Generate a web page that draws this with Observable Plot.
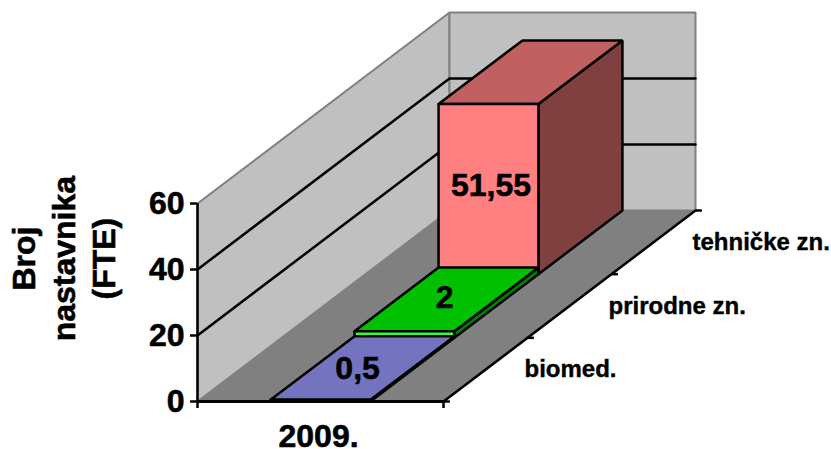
<!DOCTYPE html>
<html>
<head>
<meta charset="utf-8">
<script src="https://cdn.jsdelivr.net/npm/d3@7"></script>
<script src="https://cdn.jsdelivr.net/npm/@observablehq/plot@0.6"></script>
<style>html,body{margin:0;padding:0;background:#fff}svg{display:block}</style>
</head>
<body>
<script>
// Chart values
const categories = ["biomed.", "prirodne zn.", "tehničke zn."];
const values = [0.5, 2, 51.55];
const valueLabels = ["0,5", "2", "51,55"];
const year = "2009.";
const yTicks = [0, 20, 40, 60];
const gridValues = [20, 40];
const yTitle = "Broj\nnastavnika\n(FTE)";
const palette = [
  {front: "#9999ff", top: "#7373bf", side: "#4d4d80"},
  {front: "#33ff33", top: "#00c000", side: "#008000"},
  {front: "#ff8080", top: "#c06060", side: "#804040"}
];

// Oblique projection: depth (0..1) shifts a point within the x / value scales.
const depthX = 252 / 246, depthV = 191 / 3.3;
const barLo = 0.297, barHi = 0.703;
const n = categories.length;
const P = (x, d, v) => ({x: x + d * depthX, y: v + d * depthV});
const face = (pts, fill, stroke, strokeWidth) =>
  Plot.line([...pts, pts[0]], {x: "x", y: "y", fill, stroke, strokeWidth, strokeLinejoin: "miter", curve: "linear"});
const heavy = {fontWeight: "bold", fill: "#000", stroke: "#000", strokeWidth: 0.6};

const marks = [];
// Walls and floor
marks.push(face([P(0,0,0), P(0,1,0), P(0,1,60), P(0,0,60)], "#c0c0c0", "#808080", 2));
marks.push(face([P(0,1,0), P(1,1,0), P(1,1,60), P(0,1,60)], "#c0c0c0", "#808080", 2));
// Gridlines
for (const g of gridValues) {
  marks.push(Plot.line([P(0,0,g), P(0,1,g), P(1,1,g)], {x: "x", y: "y", stroke: "#000", strokeWidth: 2.5}));
}
marks.push(face([P(0,0,0), P(1,0,0), P(1,1,0), P(0,1,0)], "#808080", "#808080", 1));
// Bars, back to front
for (let i = n - 1; i >= 0; i--) {
  const d0 = i / n, d1 = (i + 1) / n, v = values[i], c = palette[i];
  const w = 2.5;
  marks.push(face([P(barHi,d0,0), P(barHi,d1,0), P(barHi,d1,v), P(barHi,d0,v)], c.side, "#000", w));
  marks.push(face([P(barLo,d0,v), P(barHi,d0,v), P(barHi,d1,v), P(barLo,d1,v)], c.top, "#000", w));
  marks.push(face([P(barLo,d0,0), P(barHi,d0,0), P(barHi,d0,v), P(barLo,d0,v)], c.front, "#000", w));
}
// Axes
marks.push(Plot.ruleX([0], {y1: 0, y2: 60, stroke: "#000", strokeWidth: 2.5}));
marks.push(Plot.ruleY([0], {x1: 0, x2: 1, stroke: "#000", strokeWidth: 3}));
marks.push(Plot.axisY({ticks: yTicks, tickSize: 7, tickPadding: 6, label: null, tickFormat: d => d,
  fontSize: 32, fontWeight: "bold", strokeWidth: 2.5, stroke: "#000", fill: "#000",
  textStroke: "#000", textStrokeWidth: 0.6}));
marks.push(Plot.axisX({ticks: [0, 1], tickSize: 7, label: null, tickFormat: () => "", strokeWidth: 2.5, stroke: "#000"}));
marks.push(Plot.line([P(1,0,0), P(1,1,0)], {x: "x", y: "y", stroke: "#000", strokeWidth: 2.5}));
// Depth ticks
const depthTicks = d3.range(0, n + 1).map(i => i / n);
marks.push(Plot.link(depthTicks, {
  x1: d => P(1,d,0).x, y1: d => P(1,d,0).y,
  x2: d => P(1,d,0).x + 0.026, y2: d => P(1,d,0).y,
  stroke: "#000", strokeWidth: 2.5}));
// Category labels
marks.push(Plot.text(categories, {
  x: (d, i) => P(1, (i + 0.5) / n, 0).x, y: (d, i) => P(1, (i + 0.5) / n, 0).y,
  text: d => d, dx: 39, textAnchor: "start", fontSize: 24, ...heavy, strokeWidth: 0.4}));
// Value labels
const labelX = [0.48, 0.492, 0.51];
const labelDepth = [1 / 6, 0.5, 2 / 3];
const labelValue = [values[0] - 0.3, values[1] + 0.6, values[2] / 2 + 1.1];
marks.push(Plot.text(valueLabels, {
  x: (d, i) => P(labelX[i], labelDepth[i], 0).x, y: (d, i) => P(0.5, labelDepth[i], labelValue[i]).y,
  text: d => d, fontSize: 32, ...heavy}));
// Titles
marks.push(Plot.text([year], {x: [0.492], y: [0], text: d => d, dy: 35, fontSize: 32, ...heavy}));
marks.push(Plot.text([yTitle], {x: [0], y: [43.3], text: d => d, rotate: -90, dx: -135, fontSize: 32, lineHeight: 1.25, ...heavy}));

const chart = Plot.plot({
  width: 831, height: 449,
  marginLeft: 197, marginRight: 388, marginTop: 203, marginBottom: 48,
  style: {fontFamily: "'Liberation Sans', Arial, sans-serif", background: "#fff", color: "#000", overflow: "visible"},
  x: {domain: [0, 1]},
  y: {domain: [0, 60]},
  marks
});
document.body.appendChild(chart);
</script>
</body>
</html>
